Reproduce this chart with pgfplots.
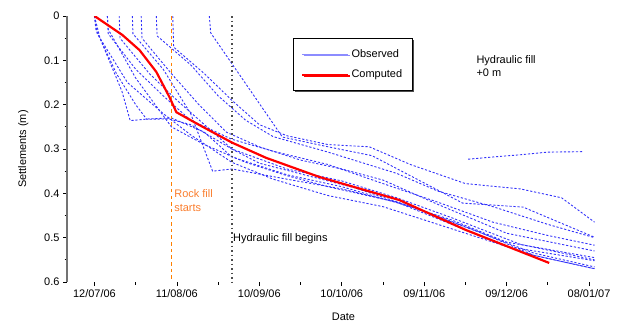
\documentclass[border=0pt]{standalone}
\usepackage{fontspec}
\setmainfont{Liberation Sans}
\usepackage{pgfplots}
\pgfplotsset{compat=1.18}
\usetikzlibrary{shadows}
\definecolor{rockorange}{RGB}{250,125,45}
\definecolor{obsblue}{RGB}{50,50,250}
\begin{document}
\begin{tikzpicture}[x=1bp,y=1bp]
\useasboundingbox (0,0) rectangle (619,324);
\begin{axis}[
  at={(67bp,42bp)}, anchor=south west,
  scale only axis, width=533bp, height=266bp,
  xmin=-10, xmax=184, ymin=0, ymax=0.6, y dir=reverse,
  axis lines*=left,
  x axis line style={draw=none},
  y axis line style={line width=1.2pt, black!55},
  tick align=outside,
  major tick length=4bp, minor tick length=2.5bp,
  tick style={black, line width=0.8pt},
  xtick={0,30,60,90,120,150,180},
  xticklabels={12/07/06,11/08/06,10/09/06,10/10/06,09/11/06,09/12/06,08/01/07},
  minor x tick num=1,
  ytick={0,0.1,0.2,0.3,0.4,0.5,0.6},
  minor y tick num=1,
  yticklabel style={/pgf/number format/fixed, /pgf/number format/precision=1},
  /pgf/number format/assume math mode=true,
  font=\fontsize{11}{13}\selectfont,
  xlabel={Date}, ylabel={Settlements (m)},
  xlabel style={xshift=10bp, yshift=-9bp},
  ylabel style={yshift=9bp},
  legend style={at={(0.424,0.917)}, anchor=north west, draw=black, line width=0.8pt,
    fill=white, inner xsep=8bp, inner ysep=9bp, row sep=7bp,
    font=\fontsize{11}{13}\selectfont,
    drop shadow={shadow xshift=1.5bp, shadow yshift=-1.5bp, fill=black!70, opacity=1}},
  legend cell align=left,
  legend image code/.code={\draw[#1] (0bp,0bp) -- (46bp,0bp);},
  obs/.style={color=obsblue, draw=obsblue, line width=0.9bp, dash pattern=on 2.2bp off 1.8bp, forget plot},
]
\addplot[obs] coordinates {(0,0) (0.5,0.03) (8,0.13) (15,0.2) (19,0.233) (27,0.232) (35,0.245) (50,0.30) (70,0.345) (90,0.372) (110,0.41) (130,0.455) (155,0.515) (182,0.55)};
\addplot[obs] coordinates {(0,0) (2,0.05) (10,0.17) (13,0.236) (20,0.232) (28,0.23) (40,0.262) (50,0.318) (70,0.358) (90,0.385) (115,0.43) (135,0.476) (160,0.535) (182,0.566)};
\addplot[obs] coordinates {(4.7,0) (5,0.04) (15,0.12) (25,0.18) (35,0.235) (50,0.278) (65,0.305) (85,0.335) (105,0.378) (125,0.42) (145,0.465) (165,0.495) (182,0.517)};
\addplot[obs] coordinates {(9,0) (9.3,0.05) (20,0.13) (30,0.19) (40,0.245) (50,0.3) (60,0.332) (75,0.356) (95,0.388) (120,0.44) (140,0.487) (160,0.54) (182,0.57)};
\addplot[obs] coordinates {(13.8,0) (14,0.04) (25,0.12) (35,0.22) (43,0.35) (50,0.345) (70,0.368) (90,0.39) (110,0.42) (130,0.47) (150,0.52) (182,0.552)};
\addplot[obs] coordinates {(17,0) (17.3,0.05) (28,0.13) (38,0.2) (48,0.262) (60,0.295) (75,0.325) (90,0.345) (105,0.37) (125,0.425) (150,0.49) (182,0.53)};
\addplot[obs] coordinates {(22.5,0) (22.8,0.045) (35,0.11) (45,0.18) (55,0.235) (65,0.272) (85,0.307) (110,0.355) (125,0.395) (145,0.43) (165,0.47) (182,0.5)};
\addplot[obs] coordinates {(28.5,0) (28.8,0.07) (40,0.13) (50,0.19) (60,0.245) (70,0.27) (85,0.29) (100,0.295) (115,0.335) (135,0.378) (155,0.39) (170,0.41) (182,0.465)};
\addplot[obs] coordinates {(41.8,0) (42.3,0.038) (68.4,0.273) (85,0.295) (101,0.315) (134,0.422) (156,0.431) (182,0.499)};
\addplot[obs] coordinates {(136,0.323) (145,0.318) (155,0.313) (165,0.307) (178,0.306)};
\addplot[obs] coordinates {(0,0) (1,0.04) (12,0.15) (25,0.22) (35,0.268) (50,0.33) (65,0.368) (85,0.405) (105,0.43) (125,0.47) (140,0.5) (160,0.54) (182,0.57)};
\addplot[obs] coordinates {(4.7,0) (5,0.03) (15,0.14) (28,0.25) (40,0.29) (55,0.33) (70,0.36) (85,0.385) (110,0.42) (130,0.46) (150,0.51) (182,0.545)};

\addplot[draw=orange, color=orange, line width=1.6bp, solid, line cap=butt, unbounded coords=jump, forget plot] coordinates {
(28,0) (28,0.008) (28,nan)
(28,0.015) (28,0.023) (28,nan)
(28,0.03) (28,0.038) (28,nan)
(28,0.045) (28,0.053) (28,nan)
(28,0.06) (28,0.068) (28,nan)
(28,0.075) (28,0.083) (28,nan)
(28,0.09) (28,0.098) (28,nan)
(28,0.105) (28,0.113) (28,nan)
(28,0.12) (28,0.128) (28,nan)
(28,0.135) (28,0.143) (28,nan)
(28,0.15) (28,0.158) (28,nan)
(28,0.165) (28,0.173) (28,nan)
(28,0.18) (28,0.188) (28,nan)
(28,0.195) (28,0.203) (28,nan)
(28,0.21) (28,0.218) (28,nan)
(28,0.225) (28,0.233) (28,nan)
(28,0.24) (28,0.248) (28,nan)
(28,0.255) (28,0.263) (28,nan)
(28,0.27) (28,0.278) (28,nan)
(28,0.285) (28,0.293) (28,nan)
(28,0.30) (28,0.308) (28,nan)
(28,0.315) (28,0.323) (28,nan)
(28,0.33) (28,0.338) (28,nan)
(28,0.345) (28,0.353) (28,nan)
(28,0.36) (28,0.368) (28,nan)
(28,0.375) (28,0.383) (28,nan)
(28,0.39) (28,0.398) (28,nan)
(28,0.405) (28,0.413) (28,nan)
(28,0.42) (28,0.428) (28,nan)
(28,0.435) (28,0.443) (28,nan)
(28,0.45) (28,0.458) (28,nan)
(28,0.465) (28,0.473) (28,nan)
(28,0.48) (28,0.488) (28,nan)
(28,0.495) (28,0.503) (28,nan)
(28,0.51) (28,0.518) (28,nan)
(28,0.525) (28,0.533) (28,nan)
(28,0.54) (28,0.548) (28,nan)
(28,0.555) (28,0.563) (28,nan)
(28,0.57) (28,0.578) (28,nan)
(28,0.585) (28,0.593)
};
\addplot[draw=black!70, line width=1.5bp, dash pattern=on 1.5bp off 3bp, forget plot] coordinates {(50,0) (50,0.6)};

\addlegendimage{color=blue!45, solid, line width=0.9pt}
\addlegendentry{Observed}
\addplot[color=red, line width=2.2pt] coordinates {(0,0) (10.2,0.043) (16.4,0.077) (22.5,0.126) (27.3,0.183) (29.8,0.217) (38.2,0.246) (50.2,0.286) (62.5,0.320) (81.8,0.363) (110.9,0.415) (135.3,0.483) (165.5,0.557)};
\addlegendentry{Computed}

\node[anchor=west, align=left, inner sep=0, text=rockorange, font=\fontsize{11}{14}\selectfont] at (axis cs:29,0.416) {Rock fill\\starts};
\node[anchor=west, inner sep=0] at (axis cs:50.4,0.503) {Hydraulic fill begins};
\node[anchor=west, align=left, inner sep=0, font=\fontsize{11}{13}\selectfont] at (axis cs:139,0.113) {Hydraulic fill\\+0 m};
\end{axis}
\end{tikzpicture}
\end{document}
